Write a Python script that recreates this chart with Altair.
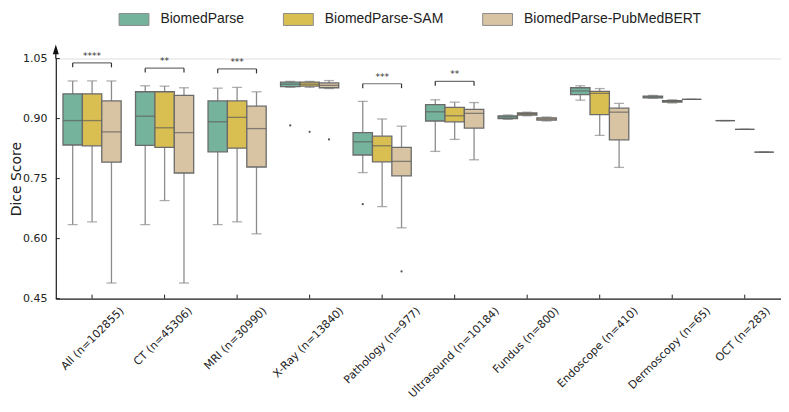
import altair as alt
import pandas as pd

categories = ["All (n=102855)", "CT (n=45306)", "MRI (n=30990)", "X-Ray (n=13840)",
              "Pathology (n=977)", "Ultrasound (n=10184)", "Fundus (n=800)",
              "Endoscope (n=410)", "Dermoscopy (n=65)", "OCT (n=283)"]
series = ["BiomedParse", "BiomedParse-SAM", "BiomedParse-PubMedBERT"]
colors = ["#75b39d", "#d9be52", "#d8c3a2"]
y_ticks = [0.45, 0.60, 0.75, 0.90, 1.05]

# BiomedParse
bp_lo  = [0.635, 0.635, 0.635, 0.978, 0.765, 0.818, 0.898, 0.946, 0.951, 0.895]
bp_q1  = [0.834, 0.833, 0.817, 0.980, 0.809, 0.894, 0.900, 0.960, 0.952, 0.895]
bp_med = [0.895, 0.906, 0.892, 0.986, 0.842, 0.917, 0.904, 0.969, 0.954, 0.895]
bp_q3  = [0.962, 0.967, 0.944, 0.991, 0.865, 0.935, 0.907, 0.977, 0.956, 0.895]
bp_hi  = [0.994, 0.982, 0.976, 0.993, 0.943, 0.947, 0.909, 0.982, 0.958, 0.895]
# BiomedParse-SAM
sam_lo  = [0.642, 0.695, 0.642, 0.978, 0.680, 0.848, 0.907, 0.858, 0.939, 0.873]
sam_q1  = [0.832, 0.828, 0.826, 0.981, 0.792, 0.892, 0.909, 0.910, 0.941, 0.873]
sam_med = [0.895, 0.877, 0.903, 0.986, 0.832, 0.907, 0.912, 0.963, 0.943, 0.873]
sam_q3  = [0.962, 0.967, 0.944, 0.991, 0.856, 0.928, 0.914, 0.968, 0.945, 0.873]
sam_hi  = [0.994, 0.981, 0.978, 0.993, 0.899, 0.941, 0.916, 0.975, 0.947, 0.873]
# BiomedParse-PubMedBERT
pmb_lo  = [0.489, 0.489, 0.612, 0.975, 0.627, 0.797, 0.894, 0.778, 0.948, 0.816]
pmb_q1  = [0.791, 0.764, 0.779, 0.977, 0.757, 0.876, 0.896, 0.847, 0.948, 0.816]
pmb_med = [0.867, 0.865, 0.875, 0.983, 0.793, 0.913, 0.899, 0.916, 0.948, 0.816]
pmb_q3  = [0.944, 0.958, 0.931, 0.989, 0.828, 0.923, 0.902, 0.926, 0.948, 0.816]
pmb_hi  = [0.994, 0.977, 0.967, 0.995, 0.881, 0.940, 0.904, 0.938, 0.948, 0.816]

out_cat = ["X-Ray (n=13840)", "X-Ray (n=13840)", "X-Ray (n=13840)",
           "Pathology (n=977)", "Pathology (n=977)"]
out_series = ["BiomedParse", "BiomedParse-SAM", "BiomedParse-PubMedBERT",
              "BiomedParse", "BiomedParse-PubMedBERT"]
out_val = [0.883, 0.867, 0.848, 0.686, 0.518]

br_cat = ["All (n=102855)", "CT (n=45306)", "MRI (n=30990)",
          "Pathology (n=977)", "Ultrasound (n=10184)"]
br_y = [1.039, 1.026, 1.024, 0.987, 0.993]
br_label = ["****", "**", "***", "***", "**"]

stats = {
    series[0]: (bp_lo, bp_q1, bp_med, bp_q3, bp_hi),
    series[1]: (sam_lo, sam_q1, sam_med, sam_q3, sam_hi),
    series[2]: (pmb_lo, pmb_q1, pmb_med, pmb_q3, pmb_hi),
}
rows = []
for s in series:
    lo, q1, med, q3, hi = stats[s]
    for i, c in enumerate(categories):
        rows.append(dict(cat=c, series=s, lo=lo[i], q1=q1[i], med=med[i], q3=q3[i], hi=hi[i]))
box_df = pd.DataFrame(rows)
out_df = pd.DataFrame(dict(cat=out_cat, series=out_series, val=out_val))
br_df = pd.DataFrame(dict(cat=br_cat, y=br_y, label=br_label))
legs_df = pd.DataFrame(dict(
    cat=br_cat * 2,
    series=[series[0]] * len(br_cat) + [series[2]] * len(br_cat),
    y=br_y * 2))
tick_df = pd.DataFrame(dict(cat=categories))
ytick_df = pd.DataFrame(dict(v=y_ticks))
arrow_df = pd.DataFrame(dict(v=[1.073]))

x_scale = alt.Scale(domain=categories, paddingInner=0, paddingOuter=0)
xo_scale = alt.Scale(domain=series, paddingInner=0, paddingOuter=0.37)
y_scale = alt.Scale(domain=[0.45, 1.05], nice=False, zero=False)

X = alt.X("cat:N", scale=x_scale, sort=categories, title=None,
          axis=alt.Axis(ticks=False, labelAngle=315, labelAlign="right", labelBaseline="top",
                        labelPadding=6, labelFont="DejaVu Sans", labelFontSize=11,
                        labelColor="#222222", labelOverlap=False, labelLimit=0,
                        labelOffset={"expr": "0.354*(length(datum.label)*6.05-11)"},
                        domainColor="#222222", domainWidth=1.2, grid=False))
XO = alt.XOffset("series:N", scale=xo_scale, sort=series)
y_axis = alt.Axis(values=y_ticks, format=".2f", ticks=False, grid=False,
                  labelPadding=9, labelFont="DejaVu Sans", labelFontSize=11,
                  labelColor="#222222", titleFont="DejaVu Sans", titleFontSize=14,
                  titleFontWeight="normal", titleColor="#222222",
                  titleX=-46, titleBaseline="top", titleAlign="center",
                  domainColor="#222222", domainWidth=1.2)

def yq(field):
    return alt.Y(field, scale=y_scale, axis=y_axis, title="Dice Score")

whisk = alt.Chart(box_df).mark_rule(color="#8c8c8c", strokeWidth=1.3).encode(
    x=X, xOffset=XO, y=yq("lo:Q"), y2="hi:Q")

caps = alt.Chart(box_df).transform_fold(["lo", "hi"], as_=["k", "v"]).mark_tick(
    color="#8c8c8c", size=10, thickness=1.3).encode(
    x=X, xOffset=XO, y=yq("v:Q"))

boxes = alt.Chart(box_df).mark_bar(stroke="#6b6b6b", strokeWidth=1.3).encode(
    x=X, xOffset=XO,
    y=yq("q1:Q"), y2="q3:Q",
    color=alt.Color("series:N", scale=alt.Scale(domain=series, range=colors), sort=series,
                    legend=alt.Legend(title=None, orient="none", legendX=63, legendY=-55,
                                      direction="horizontal", symbolType="M-1,-0.4H1V0.4H-1Z",
                                      symbolSize=900, symbolStrokeColor="#8c8c8c",
                                      symbolStrokeWidth=1, labelFont="Liberation Sans",
                                      labelFontSize=14, labelColor="#222222", labelOffset=11,
                                      labelLimit=0, columnPadding=36, padding=0)))

medians = alt.Chart(box_df).mark_tick(color="#5c5c5c", size=19.4, thickness=1.3).encode(
    x=X, xOffset=XO, y=yq("med:Q"))

outliers = alt.Chart(out_df).mark_circle(size=5, color="#555555", opacity=1).encode(
    x=X, xOffset=XO, y=yq("val:Q"))

br_line = alt.Chart(br_df).mark_tick(color="#333333", size=39, thickness=1.2).encode(
    x=X, y=yq("y:Q"))
br_text = alt.Chart(br_df).mark_text(font="DejaVu Sans", fontSize=9, color="#333333",
                                     baseline="middle", dy=-7).encode(
    x=X, y=yq("y:Q"), text="label:N")
br_legs = alt.Chart(legs_df).transform_calculate(y2="datum.y - 0.011").mark_rule(
    color="#333333", strokeWidth=1.2).encode(
    x=X, xOffset=XO, y=yq("y:Q"), y2="y2:Q")

xticks = alt.Chart(tick_df).transform_calculate(y0="0.45", y1="0.46").mark_rule(
    color="#222222", strokeWidth=1).encode(
    x=X, y=yq("y0:Q"), y2="y1:Q")

yticks = alt.Chart(ytick_df).mark_rule(color="#222222", strokeWidth=1).encode(
    x=alt.value(0), x2=alt.value(4), y=yq("v:Q"))

arrow = alt.Chart(arrow_df).mark_point(
    shape="M0,-1L0.6,1L0.12,1L0.12,1.9L-0.12,1.9L-0.12,1L-0.6,1Z", filled=True,
    color="#111111", size=100, opacity=1).encode(
    x=alt.value(0), y=yq("v:Q"))

chart = alt.layer(whisk, caps, boxes, medians, outliers, br_line, br_legs, br_text,
                  xticks, yticks, arrow).properties(
    width=728, height=241,
    padding={"left": 48, "top": 50, "right": 0, "bottom": 100},
    autosize=alt.AutoSizeParams(type="none"),
).configure_view(stroke=None).configure_axis(grid=False).configure(background="white")

chart.save("out.html", embed_options={"renderer": "svg", "actions": False})
